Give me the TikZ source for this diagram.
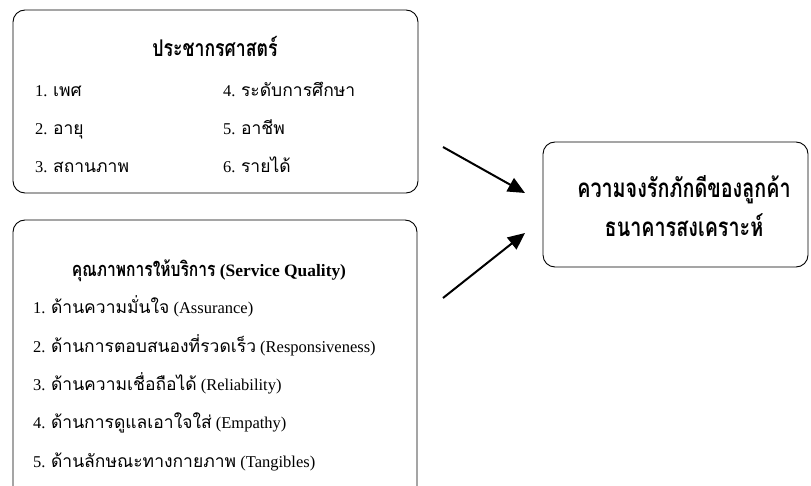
\documentclass[tikz,border=0pt]{standalone}
\usepackage{fontspec}
\setmainfont{Liberation Serif}
\newfontfamily\thaiI[Script=Thai]{Loma}
\newfontfamily\thaiT[Script=Thai,FakeStretch=0.77]{Loma}
\newfontfamily\thaiQ[Script=Thai,FakeStretch=0.78]{Loma}
\newfontfamily\thaiL[Script=Thai,FakeStretch=0.76]{Loma}
\newcommand\ti[1]{{\thaiI\fontsize{17.5}{20}\selectfont #1}}
\usetikzlibrary{arrows.meta}
\begin{document}
\begin{tikzpicture}[x=1pt,y=-1pt,
  box/.style={draw=black, line width=0.9pt, rounded corners=12pt, inner sep=0pt},
  item/.style={anchor=base west, inner sep=0pt, font=\fontsize{16.5}{20}\selectfont},
  ttl/.style={anchor=base, inner sep=0pt, font=\bfseries\fontsize{17.4}{22}\selectfont},
  conn/.style={line width=2pt, -{Triangle[length=17pt,width=15pt]}}]
\useasboundingbox (0,0) rectangle (811,486);
\begin{scope}
\clip (0,0) rectangle (811,486);
% boxes
\node[box, minimum width=405pt, minimum height=183pt] (demo) at (215.5,101.5) {};
\node[box, minimum width=404pt, minimum height=290pt] (sq) at (215,365) {};
\node[box, minimum width=265pt, minimum height=125pt] (loyal) at (675.5,204.5) {};
\end{scope}
% box 1 text
\node[ttl] (t1) at (215,57) {\thaiT\fontsize{23}{26}\selectfont ประชากรศาสตร์};
\node[item] (d1) at (35,97) {1. \ti{เพศ}};
\node[item] (d2) at (35,135) {2. \ti{อายุ}};
\node[item] (d3) at (35,173) {3. \ti{สถานภาพ}};
\node[item] (d4) at (223,97) {4. \ti{ระดับการศึกษา}};
\node[item] (d5) at (223,135) {5. \ti{อาชีพ}};
\node[item] (d6) at (223,173) {6. \ti{รายได้}};
% box 2 text
\node[ttl] (t2) at (209,277) {{\thaiQ\fontsize{20}{22}\selectfont คุณภาพการให้บริการ} (Service Quality)};
\node[item] (s1) at (33,313) {1. \ti{ด้านความมั่นใจ} (Assurance)};
\node[item] (s2) at (33,352) {2. \ti{ด้านการตอบสนองที่รวดเร็ว} (Responsiveness)};
\node[item] (s3) at (33,390) {3. \ti{ด้านความเชื่อถือได้} (Reliability)};
\node[item] (s4) at (33,428) {4. \ti{ด้านการดูแลเอาใจใส่} (Empathy)};
\node[item] (s5) at (33,467) {5. \ti{ด้านลักษณะทางกายภาพ} (Tangibles)};
% box 3 text
\node[ttl, font=\bfseries\thaiL\fontsize{26}{28}\selectfont] (l1) at (684,198) {ความจงรักภักดีของลูกค้า};
\node[ttl, font=\bfseries\thaiL\fontsize{26}{28}\selectfont] (l2) at (684,237) {ธนาคารสงเคราะห์};
% arrows
\coordinate (a1s) at (443,147);
\coordinate (a1e) at (525,193);
\coordinate (a2s) at (443,298);
\coordinate (a2e) at (525,233);
\draw[conn] (a1s) -- (a1e);
\draw[conn] (a2s) -- (a2e);
\end{tikzpicture}
\end{document}
